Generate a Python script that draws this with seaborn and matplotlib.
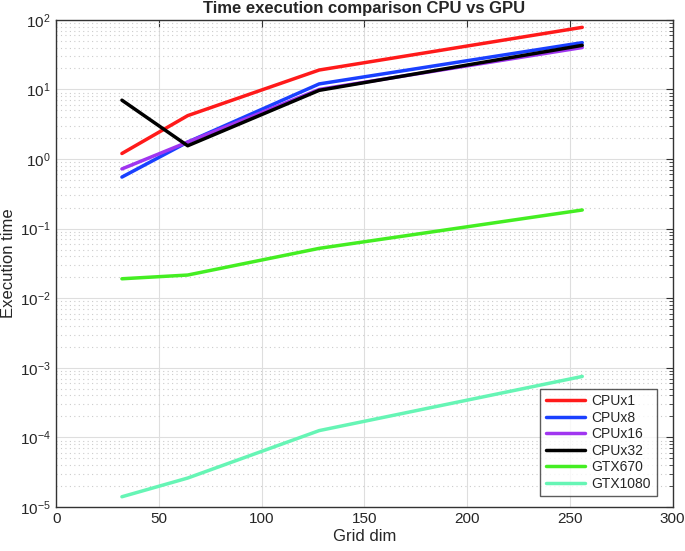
import numpy as np
import pandas as pd
import matplotlib
matplotlib.use('Agg')
import matplotlib.pyplot as plt
import seaborn as sns
from matplotlib.ticker import LogLocator, FixedLocator

# Data
grid_dim = [32, 64, 128, 256]
cpu_x1 = [1.2, 4.2, 19.0, 78.0]
cpu_x8 = [0.55, 1.75, 12.0, 47.0]
cpu_x16 = [0.72, 1.75, 10.0, 40.0]
cpu_x32 = [7.0, 1.55, 9.7, 43.0]
gtx670 = [0.019, 0.0215, 0.052, 0.185]
gtx1080 = [1.4e-5, 2.6e-5, 1.25e-4, 7.5e-4]

series_names = ['CPUx1', 'CPUx8', 'CPUx16', 'CPUx32', 'GTX670', 'GTX1080']
series_values = [cpu_x1, cpu_x8, cpu_x16, cpu_x32, gtx670, gtx1080]
colors = ['#ff1a1a', '#1a40ff', '#a035f0', '#000000', '#44ee22', '#66f5b5']

df = pd.DataFrame({
    'Grid dim': np.tile(grid_dim, len(series_names)),
    'Execution time': np.concatenate(series_values),
    'series': np.repeat(series_names, len(grid_dim)),
})

sns.set_style('white')
plt.rcParams['font.family'] = ['Liberation Sans', 'DejaVu Sans']

fig = plt.figure(figsize=(6.85, 5.51), dpi=100)
ax = fig.add_axes([0.082, 0.080, 0.900, 0.884])

sns.lineplot(data=df, x='Grid dim', y='Execution time', hue='series',
             hue_order=series_names, palette=dict(zip(series_names, colors)),
             linewidth=2.5, ax=ax, sort=False)

ax.set_yscale('log')
ax.set_xlim(0, 300)
ax.set_ylim(1e-5, 1e2)
ax.set_xticks([0, 50, 100, 150, 200, 250, 300])
ax.yaxis.set_major_locator(LogLocator(base=10, numticks=10))
ax.yaxis.set_minor_locator(LogLocator(base=10, subs=np.arange(2, 10), numticks=20))
ax.xaxis.set_minor_locator(FixedLocator([]))

ax.grid(True, which='major', color='#dedede', linestyle='-', linewidth=0.8)
ax.grid(True, which='minor', axis='y', color='#cccccc', linestyle=(0, (1, 3)), linewidth=0.8)
ax.set_axisbelow(True)

ax.tick_params(which='both', direction='in', top=True, right=True, labelsize=11,
               color='#333333', pad=4)
ax.tick_params(which='major', length=5)
ax.tick_params(which='minor', length=3)
for s in ax.spines.values():
    s.set_color('#333333')
    s.set_linewidth(1.0)

ax.set_title('Time execution comparison CPU vs GPU', fontsize=12, fontweight='bold', pad=5)
ax.set_xlabel('Grid dim', fontsize=12, labelpad=2)
ax.set_ylabel('Execution time', fontsize=12, labelpad=3)

leg = ax.legend(loc='lower right', bbox_to_anchor=(0.974, 0.022), fontsize=10,
                frameon=True, fancybox=False, edgecolor='#333333',
                handlelength=2.8, borderaxespad=0.0, labelspacing=0.18,
                borderpad=0.4, handletextpad=0.5)
leg.get_frame().set_linewidth(1.0)
for line in leg.get_lines():
    line.set_linewidth(2.5)

fig.savefig('out.png', dpi=100)
